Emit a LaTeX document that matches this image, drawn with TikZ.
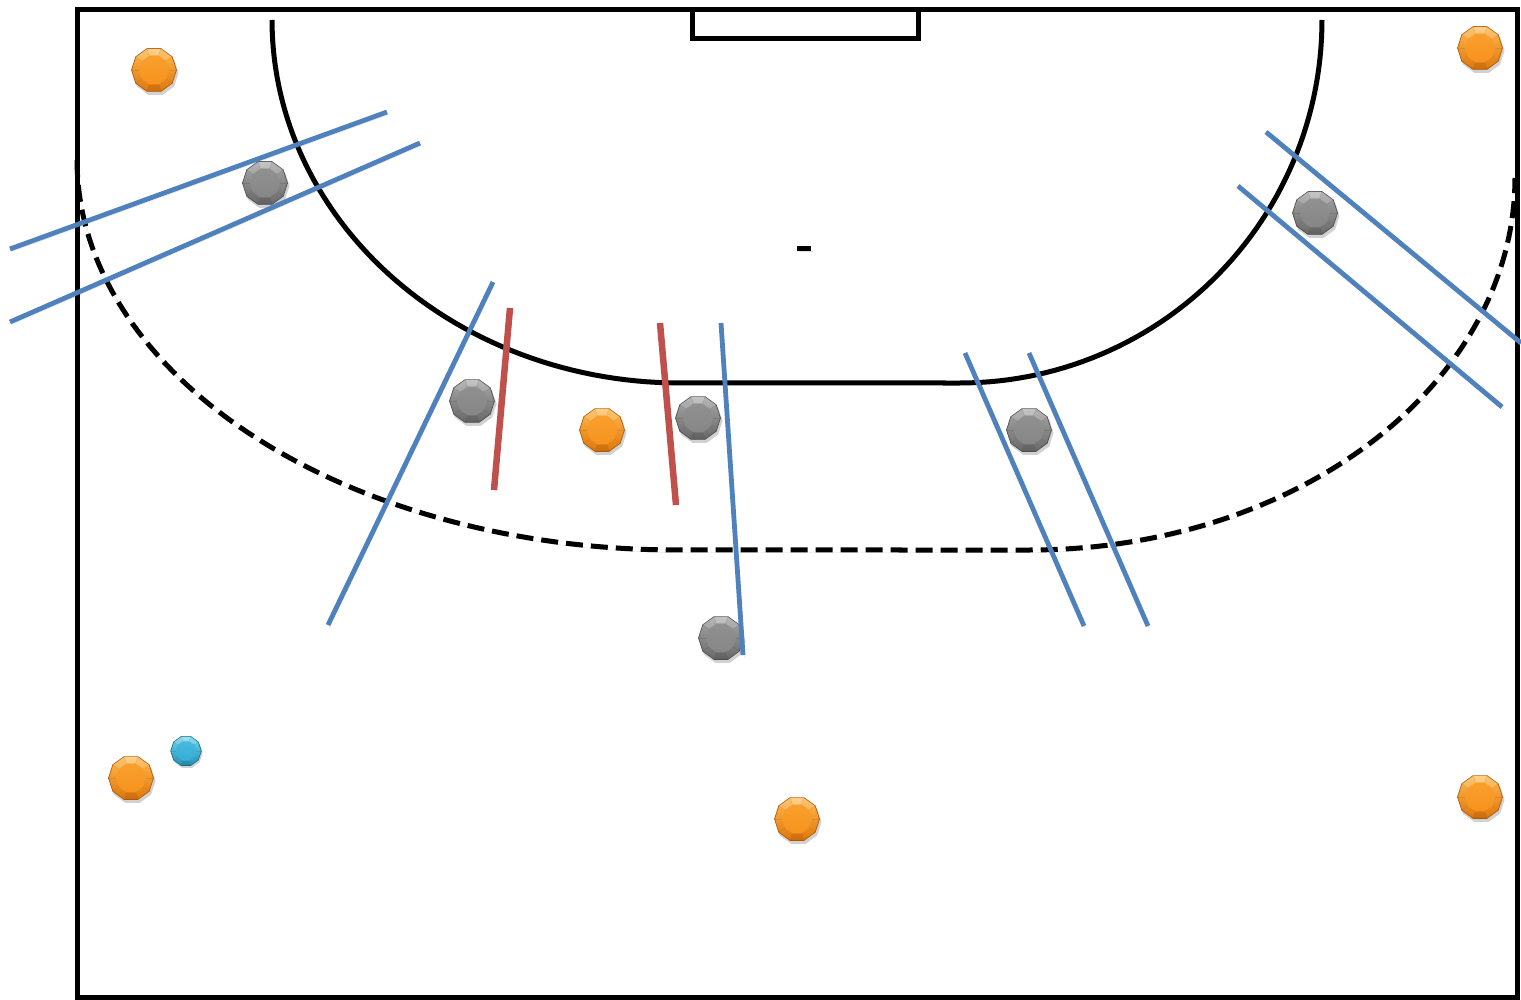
\documentclass[tikz,border=0pt]{standalone}
\definecolor{linkblue}{HTML}{4F81BD}
\definecolor{markred}{HTML}{C0504D}
% player colour sets: top / mid / bottom / edge
\definecolor{orngtop}{HTML}{FFBA4F}
\definecolor{orngmid}{HTML}{F7931E}
\definecolor{orngbot}{HTML}{DE760C}
\definecolor{orngedge}{HTML}{B05C08}
\definecolor{greytop}{HTML}{A8A8A8}
\definecolor{greymid}{HTML}{868686}
\definecolor{greybot}{HTML}{686868}
\definecolor{greyedge}{HTML}{505050}
\definecolor{cyntop}{HTML}{74D3EF}
\definecolor{cynmid}{HTML}{34AED4}
\definecolor{cynbot}{HTML}{2291B5}
\definecolor{cynedge}{HTML}{1B7594}
\tikzset{
  pics/player/.style={code={
    % soft drop shadow
    \fill[black,opacity=.18,shift={(1.5,3)}] (0:23) \foreach \a in {36,72,...,324}{ -- (\a:23)} -- cycle;
    % bevelled decagon body
    \shadedraw[top color=#1top,bottom color=#1bot,draw=#1edge,line width=.7pt]
      (0:22.5) \foreach \a in {36,72,...,324}{ -- (\a:22.5)} -- cycle;
    \fill[white,opacity=.32] (252:22.5) -- (288:22.5) -- (288:15) -- (252:15) -- cycle;
    \fill[white,opacity=.16] (216:22.5) -- (252:22.5) -- (252:15) -- (216:15) -- cycle;
    \fill[white,opacity=.16] (288:22.5) -- (324:22.5) -- (324:15) -- (288:15) -- cycle;
    \fill[black,opacity=.08] (72:22.5) -- (108:22.5) -- (108:15) -- (72:15) -- cycle;
    \shade[top color=#1mid!70!#1top,bottom color=#1mid]
      (0:15) \foreach \a in {36,72,...,324}{ -- (\a:15)} -- cycle;
    \foreach \a in {0,36,...,324} \draw[#1edge,opacity=.25,line width=.5pt] (\a:15) -- (\a:22.5);
  }}
}
\begin{document}
\begin{tikzpicture}[x=1pt,y=-1pt,
  court/.style={draw=black,line width=5pt},
  shadowed/.style={preaction={draw=black,draw opacity=.13,transform canvas={shift={(1.5pt,-2.5pt)}}}},
  blueline/.style={draw=linkblue,line width=4.8pt,shadowed},
  redline/.style={draw=markred,line width=6.5pt,shadowed},
  nineline/.style={draw=black,line width=5pt,dash pattern=on 17pt off 8pt,shadowed}]
\useasboundingbox (0,0) rectangle (1521,1000);
\fill[white] (0,0) rectangle (1521,1000);

% court outline and goal
\draw[court] (77,10) rectangle (1517,997);
\draw[court] (692,10) rectangle (918,39);

% goal-area line
\draw[court]
  plot[domain=0:90,samples=60,variable=\t] ({680-408*cos(\t)},{20+363*sin(\t)})
  -- plot[domain=90:0,samples=60,variable=\t] ({960+362*cos(\t)},{20+363*sin(\t)});

% free-throw line
\draw[nineline]
  plot[domain=0:90,samples=70,variable=\t] ({677-600*cos(\t)},{160+390*sin(\t)})
  -- plot[domain=90:0,samples=70,variable=\t] ({1030+485*cos(\t)},{178+372*sin(\t)});

% penalty mark
\draw[line width=5pt,shadowed] (797,249) -- (811,249);

% attackers
\pic (a1) at (154,70) {player=orng};
\pic (a2) at (1480,48) {player=orng};
\pic (a3) at (602,430) {player=orng};
\pic (a4) at (131,778) {player=orng};
\pic (a5) at (797,819) {player=orng};
\pic (a6) at (1480,797) {player=orng};
% defenders
\pic (d1) at (265,183) {player=grey};
\pic (d2) at (472,401) {player=grey};
\pic (d3) at (698,418) {player=grey};
\pic (d4) at (1029,430) {player=grey};
\pic (d5) at (1315,213) {player=grey};
\pic (d6) at (721,638) {player=grey};
% ball
\pic[scale=.68] (ball) at (186,751) {player=cyn};

% blocked lanes
\draw[redline] (510,308) -- (494,490);
\draw[redline] (660,323) -- (676,505);

% passing lanes
\draw[blueline] (10,249) -- (387,112);
\draw[blueline] (10,322) -- (420,143);
\draw[blueline] (493,282) -- (328,625);
\draw[blueline] (721,323) -- (743,655);
\draw[blueline] (965,353) -- (1084,626);
\draw[blueline] (1029,353) -- (1148,626);
\draw[blueline] (1266,132) -- (1521,343);
\draw[blueline] (1238,186) -- (1502,407);
\end{tikzpicture}
\end{document}
